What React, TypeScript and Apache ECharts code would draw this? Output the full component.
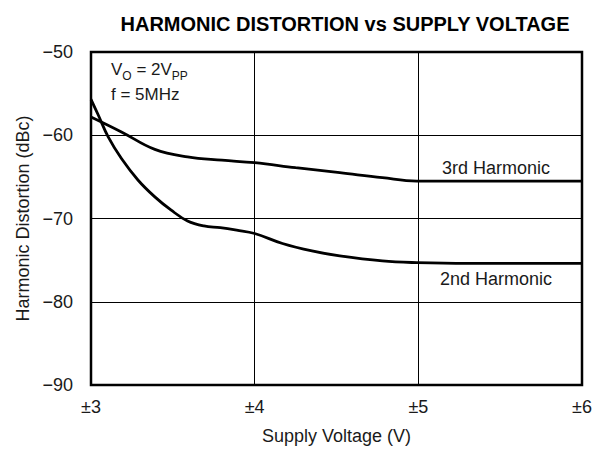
import React, { useEffect, useRef } from "react";
import * as echarts from "echarts";

const supplyV2 = [3.0, 3.045, 3.105, 3.186, 3.288, 3.39, 3.49, 3.59, 3.69, 3.79, 3.89, 4.0, 4.17, 4.35, 4.52, 4.78, 4.99, 5.3, 5.6, 6.0];
const harmonic2 = [-55.7, -57.6, -60.2, -62.8, -65.4, -67.4, -69.0, -70.3, -70.9, -71.1, -71.4, -71.8, -73.0, -73.9, -74.5, -75.1, -75.3, -75.4, -75.4, -75.4];
const supplyV3 = [3.0, 3.186, 3.39, 3.59, 3.8, 4.0, 4.25, 4.52, 4.78, 4.99, 5.3, 5.6, 6.0];
const harmonic3 = [-57.8, -59.6, -61.7, -62.6, -63.0, -63.3, -63.9, -64.5, -65.1, -65.5, -65.5, -65.5, -65.5];
const xTicks = [3, 4, 5, 6];
const yTicks = [-90, -80, -70, -60, -50];

const FONT = "'Liberation Sans', Arial, sans-serif";
const TXT = "#1a1a1a";

export default function App() {
  const ref = useRef<HTMLDivElement>(null);
  useEffect(() => {
    if (!ref.current) return;
    const chart = echarts.init(ref.current, undefined, { renderer: "svg" });
    chart.setOption({
      animation: false,
      backgroundColor: "#fff",
      title: {
        text: "HARMONIC DISTORTION vs SUPPLY VOLTAGE",
        left: 340,
        textAlign: "center",
        top: 9,
        textStyle: { fontFamily: FONT, fontSize: 20, fontWeight: "bold", color: "#000" },
      },
      grid: {
        left: 91,
        right: 21,
        top: 52,
        bottom: 66,
        show: true,
        borderColor: "#000",
        borderWidth: 2.5,
      },
      xAxis: {
        type: "value",
        min: xTicks[0],
        max: xTicks[xTicks.length - 1],
        interval: 1,
        name: "Supply Voltage (V)",
        nameLocation: "middle",
        nameGap: 42,
        nameTextStyle: { fontFamily: FONT, fontSize: 18, color: TXT },
        axisLine: { show: false },
        axisTick: { show: false },
        axisLabel: {
          margin: 13,
          fontFamily: FONT,
          fontSize: 18,
          color: TXT,
          formatter: (v: number) => "±" + v,
        },
        splitLine: { show: true, lineStyle: { color: "#000", width: 1 } },
      },
      yAxis: {
        type: "value",
        min: yTicks[0],
        max: yTicks[yTicks.length - 1],
        interval: 10,
        name: "Harmonic Distortion (dBc)",
        nameLocation: "middle",
        nameGap: 59,
        nameTextStyle: { fontFamily: FONT, fontSize: 18, color: TXT },
        axisLine: { show: false },
        axisTick: { show: false },
        axisLabel: {
          margin: 18,
          fontFamily: FONT,
          fontSize: 18,
          color: TXT,
          padding: [3, 0, 0, 0],
          formatter: (v: number) => String(v).replace("-", "\u2212"),
        },
        splitLine: { show: true, lineStyle: { color: "#000", width: 1 } },
      },
      series: [
        {
          name: "2nd Harmonic",
          type: "line",
          smooth: 0.4,
          showSymbol: false,
          data: supplyV2.map((x, i) => [x, harmonic2[i]]),
          lineStyle: { color: "#000", width: 2.8 },
          z: 5,
        },
        {
          name: "3rd Harmonic",
          type: "line",
          smooth: 0.4,
          showSymbol: false,
          data: supplyV3.map((x, i) => [x, harmonic3[i]]),
          lineStyle: { color: "#000", width: 2.8 },
          z: 5,
        },
      ],
      graphic: [
        {
          type: "text",
          left: 111,
          top: 61,
          style: {
            text: "V{sub|O} = 2V{sub|PP}",
            font: `17px ${FONT}`,
            fill: TXT,
            rich: {
              sub: { fontSize: 12, fontFamily: FONT, fill: TXT, padding: [12, 0, 0, 0] },
            },
          },
        },
        {
          type: "text",
          left: 111,
          top: 86,
          style: { text: "f = 5MHz", font: `17px ${FONT}`, fill: TXT },
        },
        {
          type: "text",
          x: 496,
          y: 168,
          style: { text: "3rd Harmonic", font: `18px ${FONT}`, fill: TXT, align: "center", verticalAlign: "middle" },
        },
        {
          type: "text",
          x: 496,
          y: 279,
          style: { text: "2nd Harmonic", font: `18px ${FONT}`, fill: TXT, align: "center", verticalAlign: "middle" },
        },
      ],
    });
    return () => chart.dispose();
  }, []);
  return <div ref={ref} style={{ width: 603, height: 451, position: "absolute", left: 0, top: 0 }} />;
}
